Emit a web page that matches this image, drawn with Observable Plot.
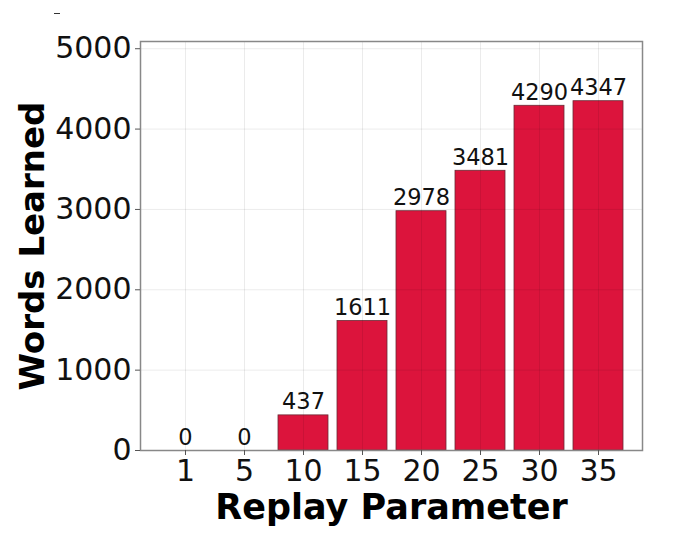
<!DOCTYPE html>
<html>
<head>
<meta charset="utf-8">
<script src="https://cdn.jsdelivr.net/npm/d3@7"></script>
<script src="https://cdn.jsdelivr.net/npm/@observablehq/plot@0.6"></script>
<style>
  body { margin: 0; background: #fff; }
  #chart { position: relative; width: 680px; height: 543px; }
  #dash { position: absolute; left: 54px; top: 13px; width: 6px; height: 1px; background: #333; }
</style>
</head>
<body>
<div id="chart"><div id="dash"></div></div>
<script>
const replay = ["1", "5", "10", "15", "20", "25", "30", "35"];
const words = [0, 0, 437, 1611, 2978, 3481, 4290, 4347];
const yTicks = [0, 1000, 2000, 3000, 4000, 5000];

const data = replay.map((r, i) => ({replay: r, words: words[i]}));

const chart = Plot.plot({
  width: 680,
  height: 543,
  marginLeft: 140,
  marginRight: 38,
  marginTop: 41,
  marginBottom: 93,
  style: {
    fontFamily: "DejaVu Sans, sans-serif",
    background: "#fff",
    color: "#111"
  },
  x: {domain: replay, paddingInner: 0.16, paddingOuter: 0.33, label: null},
  y: {domain: [0, 5090], label: null},
  marks: [
    Plot.barY(data, {x: "replay", y: "words", fill: "#DC143C", stroke: "#6a2a35", strokeWidth: 0.8}),
    Plot.gridX({stroke: "#000", strokeOpacity: 0.08}),
    Plot.gridY(yTicks, {stroke: "#000", strokeOpacity: 0.08}),
    Plot.frame({stroke: "#888", strokeWidth: 1.5}),
    Plot.axisX({tickSize: 5, tickPadding: 4, fontSize: 30, stroke: "#555", label: null}),
    Plot.axisY({ticks: yTicks, tickFormat: d => String(d), tickSize: 5, tickPadding: 4, fontSize: 30, stroke: "#555", label: null}),
    Plot.text(data, {x: "replay", y: "words", text: d => String(d.words), lineAnchor: "bottom", dy: -6, fontSize: 22.5, fill: "#111"}),
    Plot.text(["Words Learned"], {frameAnchor: "left", textAnchor: "middle", lineAnchor: "middle", dx: -107, rotate: -90, fontSize: 34, fontWeight: "bold", fill: "#000"}),
    Plot.text(["Replay Parameter"], {frameAnchor: "bottom", textAnchor: "middle", lineAnchor: "middle", dy: 57, fontSize: 35, fontWeight: "bold", fill: "#000"})
  ]
});

document.getElementById("chart").append(chart);
</script>
</body>
</html>
